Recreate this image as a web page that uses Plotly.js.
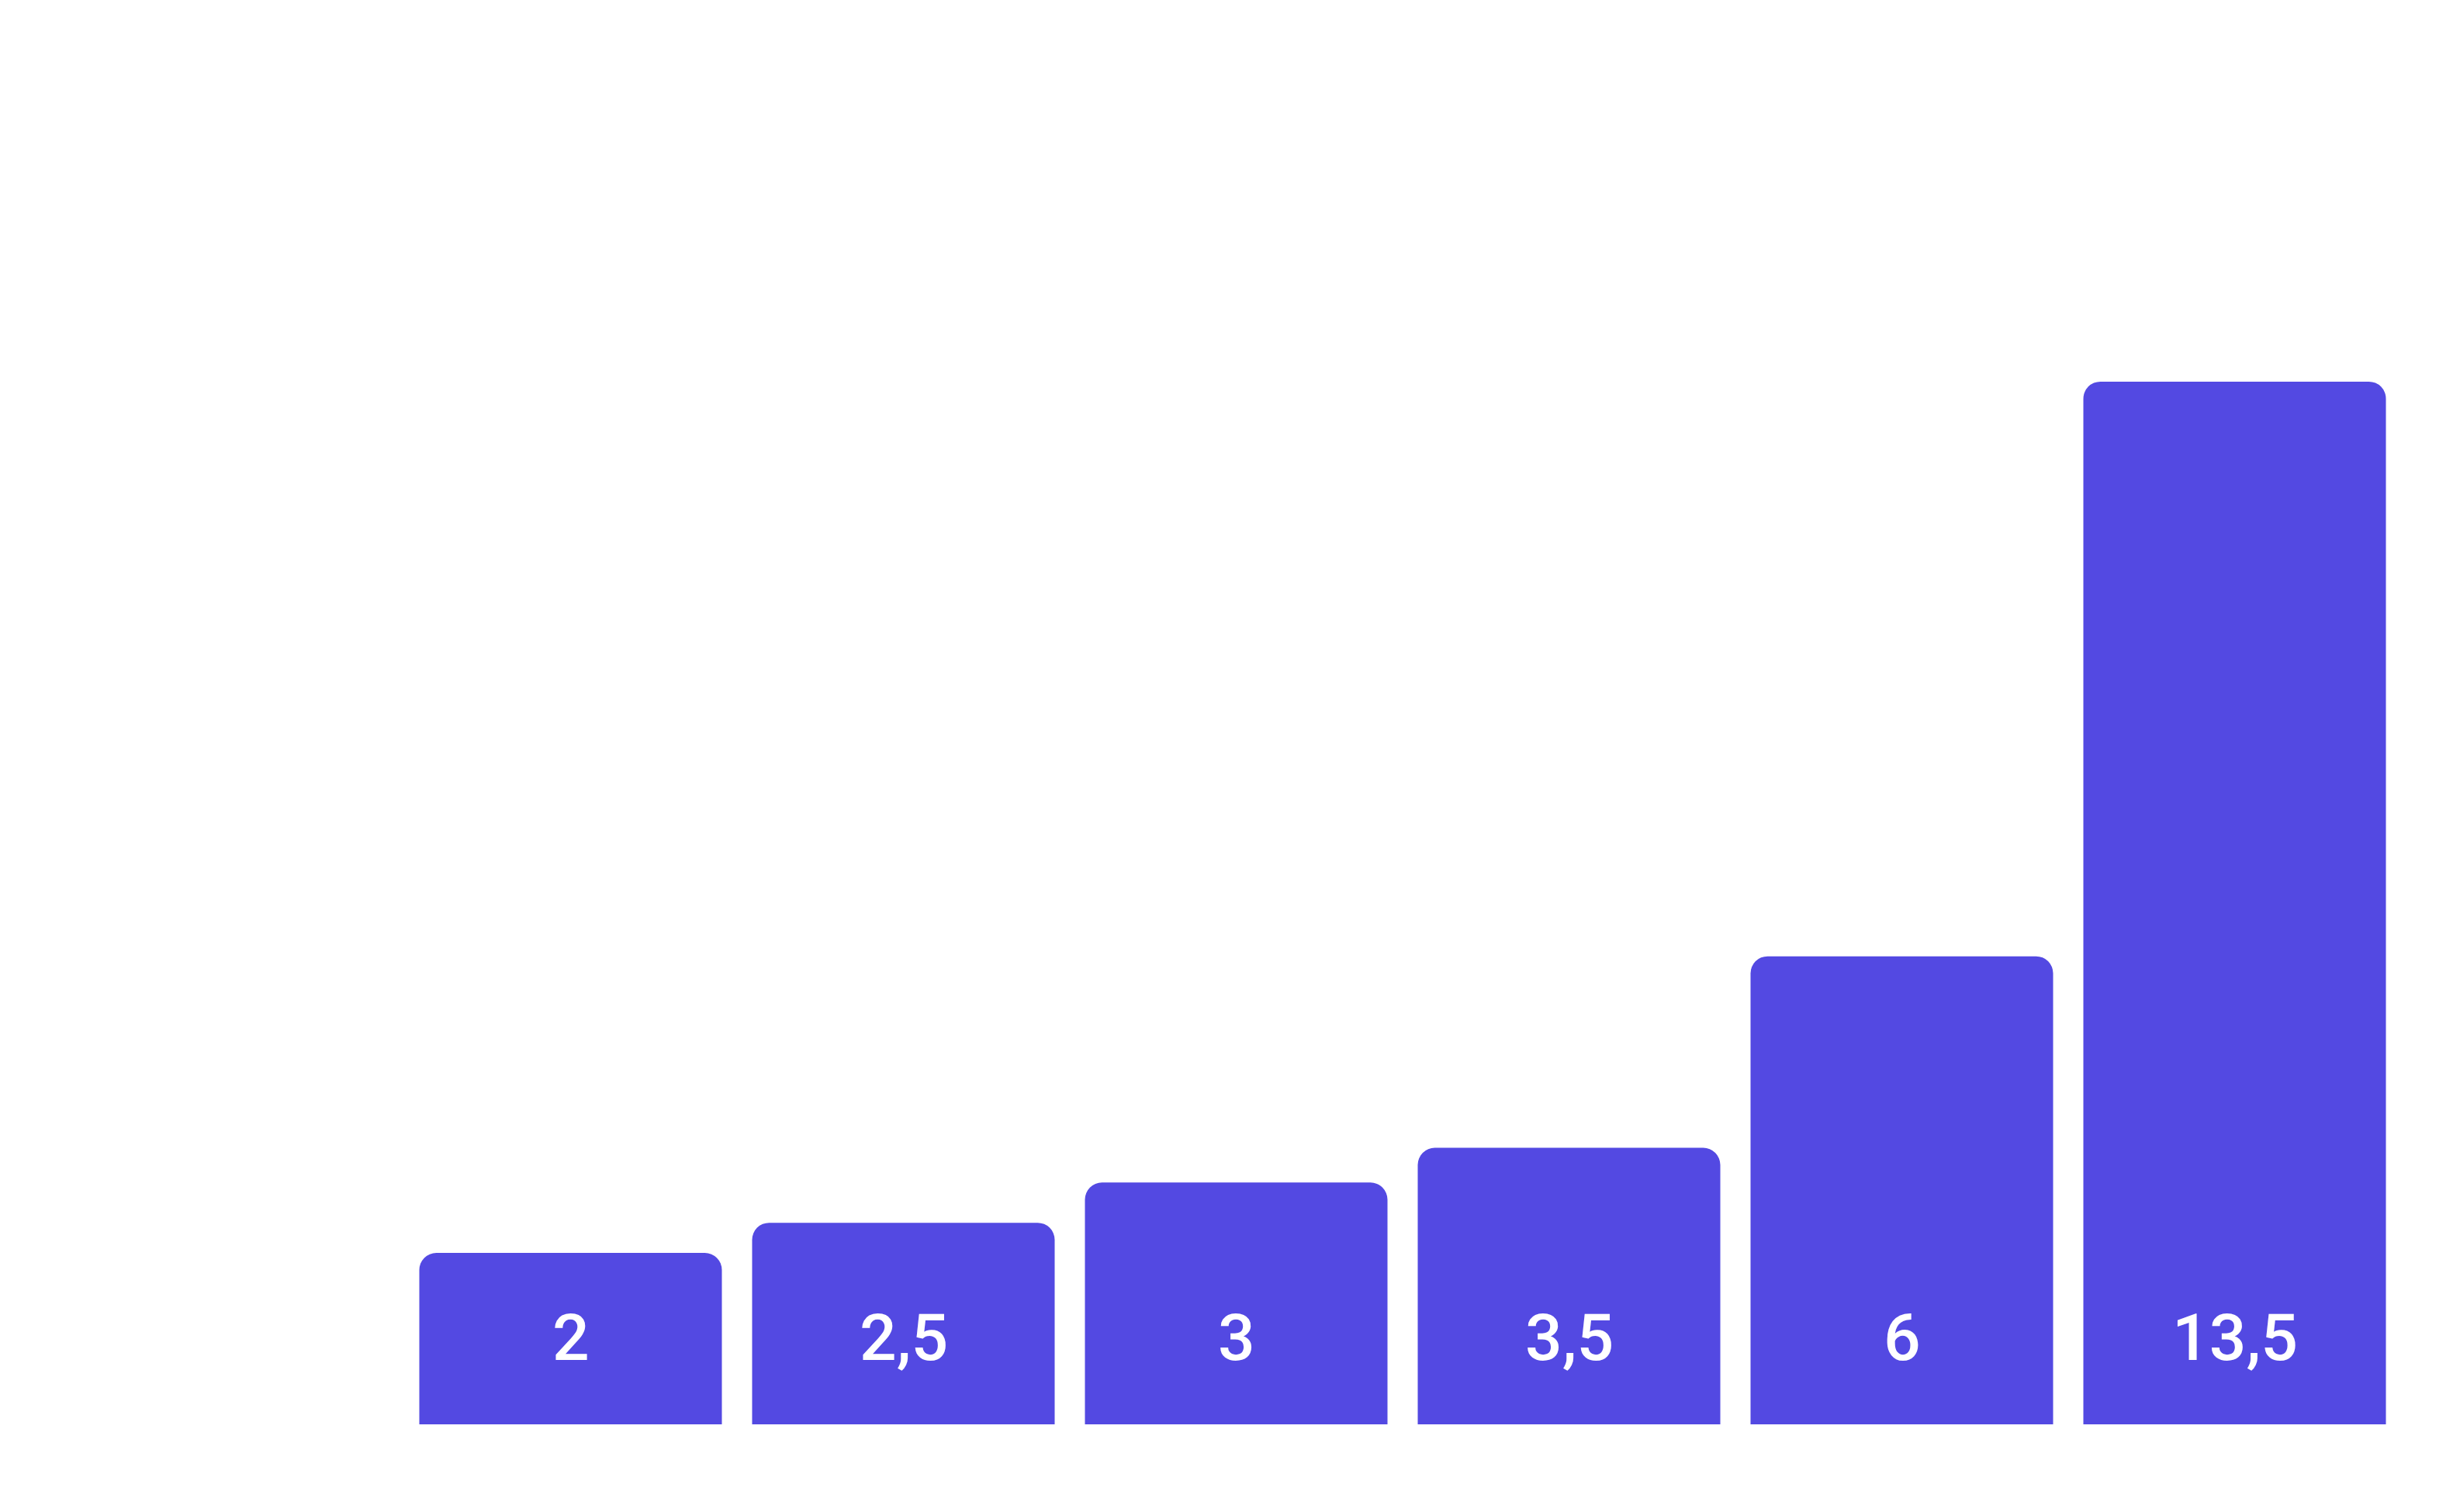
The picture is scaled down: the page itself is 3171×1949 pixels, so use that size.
<!DOCTYPE html>
<html>
<head>
<meta charset="utf-8">
<script src="https://cdn.plot.ly/plotly-3.0.1.min.js"></script>
<style>
  html, body { margin: 0; padding: 0; background: #ffffff; }
  #chart { width: 3171px; height: 1949px; }
</style>
</head>
<body>
<div id="chart"></div>
<script>
// Data
const categories = ["c1", "c2", "c3", "c4", "c5", "c6"];
const values = [2.22, 2.61, 3.13, 3.58, 6.06, 13.5];
const labels = ["2", "2,5", "3", "3,5", "6", "13,5"];

const barColor = "#5349E2";

const trace = {
  type: "bar",
  x: categories,
  y: values,
  marker: { color: barColor, cornerradius: 22, line: { width: 0 } },
  hoverinfo: "skip",
  showlegend: false
};

const annotations = categories.map((c, i) => ({
  x: c,
  y: 0,
  xref: "x",
  yref: "y",
  text: labels[i],
  showarrow: false,
  yanchor: "middle",
  xanchor: "center",
  yshift: 112,
  font: { family: "Roboto, Liberation Sans, Arial, sans-serif", size: 84, weight: 500, color: "#ffffff" }
}));

const layout = {
  width: 3171,
  height: 1949,
  margin: { l: 521, r: 76, t: 243, b: 113, pad: 0 },
  paper_bgcolor: "#ffffff",
  plot_bgcolor: "#ffffff",
  bargap: 0.0909,
  xaxis: { type: "category", showticklabels: false, showgrid: false, zeroline: false, showline: false, ticks: "" },
  yaxis: { range: [0, 16], showticklabels: false, showgrid: false, zeroline: false, showline: false, ticks: "" },
  annotations: annotations,
  showlegend: false
};

Plotly.newPlot("chart", [trace], layout, { displayModeBar: false, staticPlot: true });
</script>
</body>
</html>
